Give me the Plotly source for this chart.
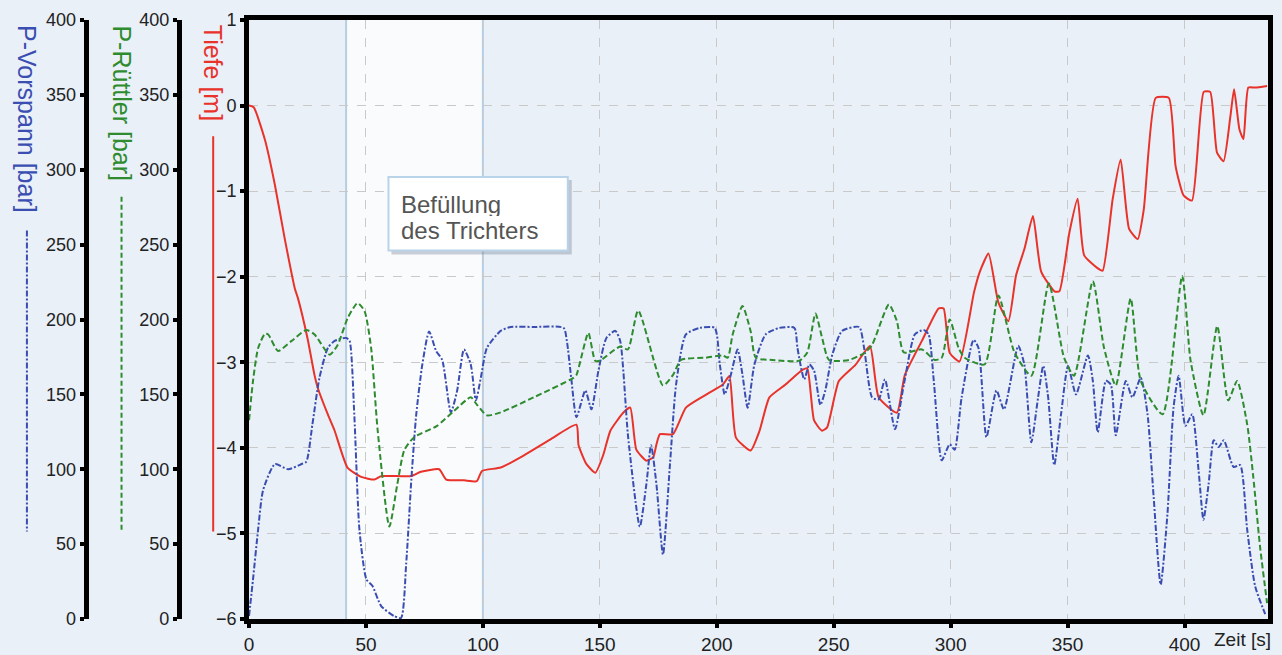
import plotly.graph_objects as go

# ---------------- data ----------------
t_tiefe = [0, 2, 6.8, 11, 15.3, 19.6, 20.9, 25, 28, 29.4, 33.7, 36.6, 42.1, 48, 53.6, 56.5, 69.4, 73.5,
           81.3, 84.3, 91.9, 97.4, 99.6, 107.6, 117.4, 128.9, 140, 140.9, 144.3, 148.1, 151.5, 154.5,
           160, 163, 165.6, 169.9, 172.8, 174.2, 175.7, 181.3, 186.8, 195.3, 202.6, 205.4, 208.2,
           214.5, 218.3, 222.5, 229.4, 236.6, 238.7, 241.6, 245, 247.2, 252.2, 259.3, 265.5, 269.2,
           277, 280.4, 287.7, 294.9, 297, 299.6, 303.8, 310, 312.5, 316.2, 320.4, 324.7, 328, 331.6,
           335.2, 338.7, 344.4, 346.5, 350.8, 354.3, 357.1, 362.8, 365, 369.3, 372.7, 376.3, 380,
           382.6, 387.7, 393.3, 396.2, 399.6, 403.2, 408.2, 411, 413.9, 416.7, 419.6, 421.2, 423.5,
           425.2, 427.3, 430.2, 435.3]
tiefe = [0.0, -0.02, -0.40, -0.92, -1.56, -2.14, -2.25, -2.72, -3.15, -3.30, -3.61, -3.80, -4.23, -4.34,
         -4.37, -4.33, -4.33, -4.28, -4.25, -4.37, -4.38, -4.39, -4.27, -4.23, -4.09, -3.90, -3.73,
         -3.97, -4.19, -4.29, -4.08, -3.80, -3.59, -3.53, -4.02, -4.15, -4.11, -3.96, -3.84, -3.84,
         -3.53, -3.38, -3.26, -3.16, -3.88, -4.03, -3.80, -3.41, -3.26, -3.09, -3.07, -3.68, -3.80,
         -3.76, -3.22, -3.03, -2.81, -3.41, -3.59, -3.15, -2.75, -2.37, -2.37, -2.89, -2.99, -2.18,
         -1.94, -1.73, -2.30, -2.52, -1.98, -1.67, -1.29, -1.94, -2.17, -2.17, -1.48, -1.09, -1.75,
         -1.90, -1.93, -1.09, -0.63, -1.44, -1.56, -1.21, 0.09, 0.09, -0.71, -1.05, -1.11, 0.16,
         0.16, -0.55, -0.65, -0.13, 0.19, -0.28, -0.39, 0.21, 0.21, 0.23]

t_ruettler = [0, 1.7, 3.9, 6.8, 8.2, 12.4, 18.2, 24.5, 28, 34.5, 37.9, 42.2, 46.4, 49.4, 52.2, 55, 60,
              63.4, 66.4, 70.6, 80.4, 87.7, 94.8, 97.5, 101.7, 107.6, 121.7, 138.7, 140, 145.1, 148,
              150, 158.7, 162, 166.4, 177, 181.3, 184.7, 195.3, 202.6, 204.7, 206.8, 211, 214.5,
              216.7, 223.8, 235.3, 238.7, 242.2, 245, 248, 256.6, 263.4, 266.4, 273.6, 277, 280,
              287.7, 293.2, 296.2, 299.6, 303.4, 306, 314.5, 320.4, 327.3, 334.5, 342, 348.5, 352.8,
              360.8, 365.6, 370.6, 377, 381.3, 390.6, 399, 402.6, 408.1, 414, 418.7, 422.5, 426.8,
              429.4, 432.3, 435.3]
p_ruettler = [132.7, 159, 181, 190.4, 190, 179, 185.7, 193, 190, 176.5, 183, 201, 211, 205.6, 181, 126,
              61.7, 90, 112.8, 121.4, 129, 139, 148, 143, 136, 138, 148, 161, 163, 191, 172.5, 172.5,
              182, 180, 206, 156, 163, 173, 174.5, 176, 174.5, 190, 209, 192, 174.5, 173, 172.5, 178,
              204, 188, 173, 173, 178, 183, 210, 199, 178, 180, 173, 174.5, 200, 181, 174.5, 170, 216,
              178, 162.5, 224, 174.5, 162.5, 225.5, 181, 156, 214, 159, 136.7, 229, 172.5, 136,
              195.7, 146, 159, 130, 95, 48.4, 10.6]

t_vorspann = [0, 1.7, 3.9, 6, 11.1, 16.7, 22.5, 24.5, 27.1, 30.1, 33.7, 36.6, 41.6, 43, 45, 47.2, 50.2,
              52.8, 56.5, 62, 65, 67.2, 69.4, 71.5, 74.1, 77, 80, 82.6, 86.3, 89, 91.9, 94.8, 97, 99.1,
              101.7, 107.6, 111.9, 121.7, 134.5, 135.9, 137.9, 140, 143.8, 146.4, 149.4, 152.8, 156.6,
              158.7, 162.1, 167.1, 169.9, 171.9, 174.2, 177, 180, 182.6, 186.8, 192.8, 199.1, 201.3,
              203.4, 206, 208.9, 211, 213.2, 216.1, 220.9, 226.8, 233.2, 234.5, 237.4, 239.6, 241.6,
              244.3, 246.4, 249.4, 253.6, 260.9, 263, 266.4, 269.2, 271.9, 276.2, 280, 284.7, 288.5,
              290.6, 292.8, 296.2, 299.6, 301.7, 304.7, 309.8, 311.9, 315.3, 319.6, 322.8, 328.9,
              331.5, 334.5, 337.4, 339.6, 341.7, 344.3, 347.2, 350.2, 353.6, 358.7, 360.8, 362.9,
              366.4, 368.5, 370.6, 374.9, 377.7, 381.3, 384.2, 386.8, 389.8, 392.7, 395.3, 397.5,
              400.4, 403.3, 406, 408.1, 410.3, 412.5, 414.6, 416.8, 421, 423.8, 426.8, 430.2, 434.5]
p_vorspann = [2, 26.5, 60, 86, 103.5, 100, 103.5, 105, 130, 161, 181, 185.7, 187.7, 185.7, 136.7, 59.7,
              26.5, 22, 8.6, 2, 0.7, 37, 93, 136.7, 170, 192, 179, 173, 138, 152.6, 180, 170, 146, 161,
              181, 192.4, 195, 195, 194.4, 185.7, 159, 134.7, 152.6, 140, 165.8, 187.7, 192.4, 185.7,
              121.4, 61.7, 90, 116, 90, 43, 103.5, 156.5, 190, 194.4, 194.4, 170, 150, 163, 180, 163,
              141, 170, 190, 194.4, 194.4, 181, 160, 170, 165.8, 143, 152.6, 176.5, 192.4, 195, 181,
              148, 146.6, 160, 126.7, 156.5, 190, 193, 190, 159, 106, 116.7, 113, 148, 186.4, 181,
              121.4, 152.6, 140, 182.4, 170, 118, 148, 169, 148, 102.8, 136.7, 169, 150, 176, 159,
              124.7, 159, 156.5, 122.7, 159, 148, 161, 136.7, 81.6, 23, 70, 141, 162.5, 129, 136.7,
              99.5, 66.3, 90, 119.4, 114.8, 119.4, 101.5, 102.8, 59.7, 21.9, 3.3]

x_ticks = [0, 50, 100, 150, 200, 250, 300, 350, 400]
highlight = [41.5, 100]
box_lines = ["Befüllung", "des Trichters"]

# ---------------- style ----------------
BG = "#E9F0F8"
RED = "#E8322A"
GREEN = "#2E8B2E"
BLUE = "#3A4DB0"
FONT = "Liberation Sans, Arial, sans-serif"
W, H = 1282, 655
ML, MR, MT, MB = 0, 14, 20, 32
PW = W - ML - MR
PH = H - MT - MB


def px_x(p):
    return (p - ML) / PW


def px_y(p):
    return (H - MB - p) / PH


fig = go.Figure()
fig.add_trace(go.Scatter(x=t_tiefe, y=tiefe, mode="lines", yaxis="y",
                         line=dict(color=RED, width=2, shape="spline", smoothing=0.5),
                         name="Tiefe [m]"))
fig.add_trace(go.Scatter(x=t_ruettler, y=p_ruettler, mode="lines", yaxis="y3",
                         line=dict(color=GREEN, width=2, dash="6px,3px", shape="spline", smoothing=0.6),
                         name="P-Rüttler [bar]"))
fig.add_trace(go.Scatter(x=t_vorspann, y=p_vorspann, mode="lines", yaxis="y2",
                         line=dict(color=BLUE, width=2, dash="6px,2px,2px,2px", shape="spline", smoothing=0.6),
                         name="P-Vorspann [bar]"))

tickfont = dict(family=FONT, size=18, color="#222222")
xtickfont = dict(family=FONT, size=19, color="#222222")
x0 = px_x(245)

common_p = dict(range=[0, 400], dtick=50, overlaying="y", anchor="free", side="left",
                ticks="outside", ticklen=4, tickwidth=4, tickcolor="black", showline=True,
                linewidth=5, linecolor="black", showgrid=False, zeroline=False, tickfont=tickfont)

fig.update_layout(
    width=W, height=H,
    margin=dict(l=ML, r=MR, t=MT, b=MB),
    paper_bgcolor=BG, plot_bgcolor=BG,
    showlegend=False,
    font=dict(family=FONT),
    xaxis=dict(domain=[x0, 1], range=[0, 435.7], tickvals=x_ticks, ticks="outside", ticklen=4,
               tickwidth=4, tickcolor="black", showline=True, linewidth=5, linecolor="black",
               mirror=True, showgrid=True, gridcolor="#C9C9C9", griddash="dash", gridwidth=1,
               zeroline=False, tickfont=xtickfont),
    yaxis=dict(range=[-6, 1], dtick=1, ticks="outside", ticklen=4, tickwidth=4, tickcolor="black",
               showline=True, linewidth=5, linecolor="black", mirror=True, showgrid=True,
               gridcolor="#C9C9C9", griddash="dash", gridwidth=1, zeroline=False, tickfont=tickfont),
    yaxis2=dict(position=px_x(81), **common_p),
    yaxis3=dict(position=px_x(174.5), **common_p),
)

# highlighted filling phase
fig.add_shape(type="rect", xref="x", yref="paper", x0=highlight[0], x1=highlight[1], y0=0, y1=1,
              fillcolor="rgba(255,255,255,0.75)", line=dict(width=0), layer="below")
for xv in highlight:
    fig.add_shape(type="line", xref="x", yref="paper", x0=xv, x1=xv, y0=0, y1=1,
                  line=dict(color="#B6CEE2", width=2), layer="below")

# axis titles (rotated) and legend keys
titles = [("P-Vorspann [bar]", 22, BLUE, 232, "6px,2px,2px,2px"),
          ("P-Rüttler [bar]", 117, GREEN, 198, "5px,3px"),
          ("Tiefe [m]", 209, RED, 137, "solid")]
for txt, xp, col, ystart, dash in titles:
    fig.add_annotation(text=txt, xref="paper", yref="paper", x=px_x(xp), y=px_y(23),
                       xanchor="center", yanchor="top", textangle=90, showarrow=False,
                       font=dict(family=FONT, size=25, color=col))
    fig.add_shape(type="line", xref="paper", yref="paper", x0=px_x(xp), x1=px_x(xp),
                  y0=px_y(ystart), y1=px_y(535), line=dict(color=col, width=2, dash=dash))

# text box with shadow
fig.add_shape(type="rect", xref="paper", yref="paper", x0=px_x(388), x1=px_x(569),
              y0=px_y(256), y1=px_y(181), fillcolor="rgba(110,120,140,0.35)",
              line=dict(width=0), layer="above")
fig.add_shape(type="rect", xref="paper", yref="paper", x0=px_x(385), x1=px_x(565),
              y0=px_y(252), y1=px_y(178), fillcolor="white",
              line=dict(color="#B9D3E8", width=2), layer="above")
for txt, yc in zip(box_lines, [205, 231]):
    fig.add_annotation(text=txt, xref="paper", yref="paper", x=px_x(397), y=px_y(yc),
                       xanchor="left", yanchor="middle", showarrow=False, borderpad=0,
                       height=24, font=dict(family=FONT, size=24, color="#555555"))

fig.add_annotation(text="Zeit [s]", xref="paper", yref="paper", x=px_x(1273), y=px_y(644),
                   xanchor="right", yanchor="middle", showarrow=False,
                   font=dict(family=FONT, size=19, color="#222222"))

fig.write_html("out.html", config={"displayModeBar": False},
               post_script="document.body.style.margin='0px';")
